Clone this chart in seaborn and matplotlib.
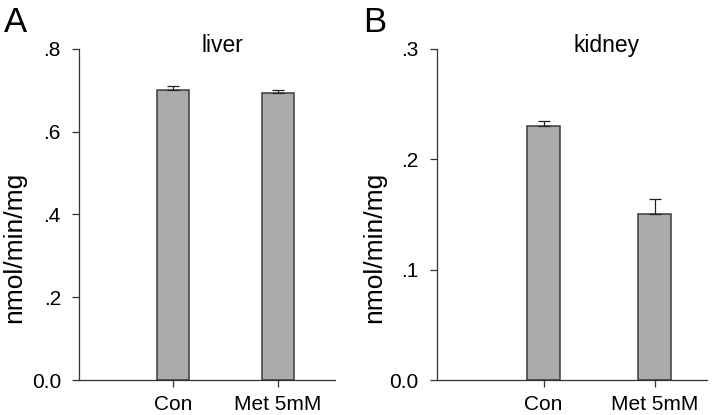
import matplotlib
matplotlib.use("Agg")
import matplotlib.pyplot as plt
import seaborn as sns
import pandas as pd
import numpy as np

sns.set_style("ticks")
plt.rcParams['font.family'] = ['Liberation Sans', 'DejaVu Sans']

categories = ["Con", "Met 5mM"]
liver_means = [0.700, 0.693]
liver_sem = [0.010, 0.008]
kidney_means = [0.230, 0.150]
kidney_sem = [0.005, 0.014]

liver_ticks = [0.0, 0.2, 0.4, 0.6, 0.8]
liver_ticklabels = ["0.0", ".2", ".4", ".6", ".8"]
kidney_ticks = [0.0, 0.1, 0.2, 0.3]
kidney_ticklabels = ["0.0", ".1", ".2", ".3"]

fig = plt.figure(figsize=(7.14, 4.15), dpi=100)
axA = fig.add_axes([0.1106, 0.0843, 0.3585, 0.798])
axB = fig.add_axes([0.6116, 0.0843, 0.3786, 0.798])

bar_color = "#ababab"
edge = "#3a3a3a"
fs = 15

def panel(ax, means, sems, ticks, ticklabels, title, letter, xlim, lx,
          title_x, ylab_x):
    df = pd.DataFrame({"group": categories, "value": means})
    sns.barplot(data=df, x="group", y="value", color=bar_color, edgecolor=edge,
                linewidth=1.1, width=0.30, saturation=1, ax=ax, errorbar=None)
    pos = np.arange(len(categories))
    ax.errorbar(pos, means, yerr=[np.zeros(len(sems)), sems], fmt="none",
                ecolor="#222222", elinewidth=0.9, capsize=4, capthick=0.9)
    ax.set_xlim(*xlim)
    ax.set_ylim(ticks[0], ticks[-1])
    ax.set_yticks(ticks)
    ax.set_yticklabels(ticklabels)
    ax.set_xlabel("")
    ax.set_ylabel("nmol/min/mg", fontsize=19, color="black")
    ax.yaxis.set_label_coords(ylab_x, 0.40)
    ax.tick_params(axis="both", labelsize=fs, length=5, width=0.9,
                   color="#333333", labelcolor="black")
    ax.tick_params(axis="y", pad=8)
    ax.tick_params(axis="x", pad=6)
    for s in ["left", "bottom"]:
        ax.spines[s].set_linewidth(0.9)
        ax.spines[s].set_color("#333333")
    sns.despine(ax=ax)
    ax.text(title_x, 0.991, title, ha="center", va="baseline", fontsize=16.5,
            color="black", transform=ax.transAxes)
    fig.text(lx, 1 - 32 / 415, letter, fontsize=25, ha="left", va="baseline",
             color="black")

panel(axA, liver_means, liver_sem, liver_ticks, liver_ticklabels, "liver", "A",
      (-0.895, 1.54), 4 / 714, 0.559, -0.205)
panel(axB, kidney_means, kidney_sem, kidney_ticks, kidney_ticklabels, "kidney", "B",
      (-0.962, 1.47), 363 / 714, 0.629, -0.188)

fig.savefig("out.png", dpi=100)
